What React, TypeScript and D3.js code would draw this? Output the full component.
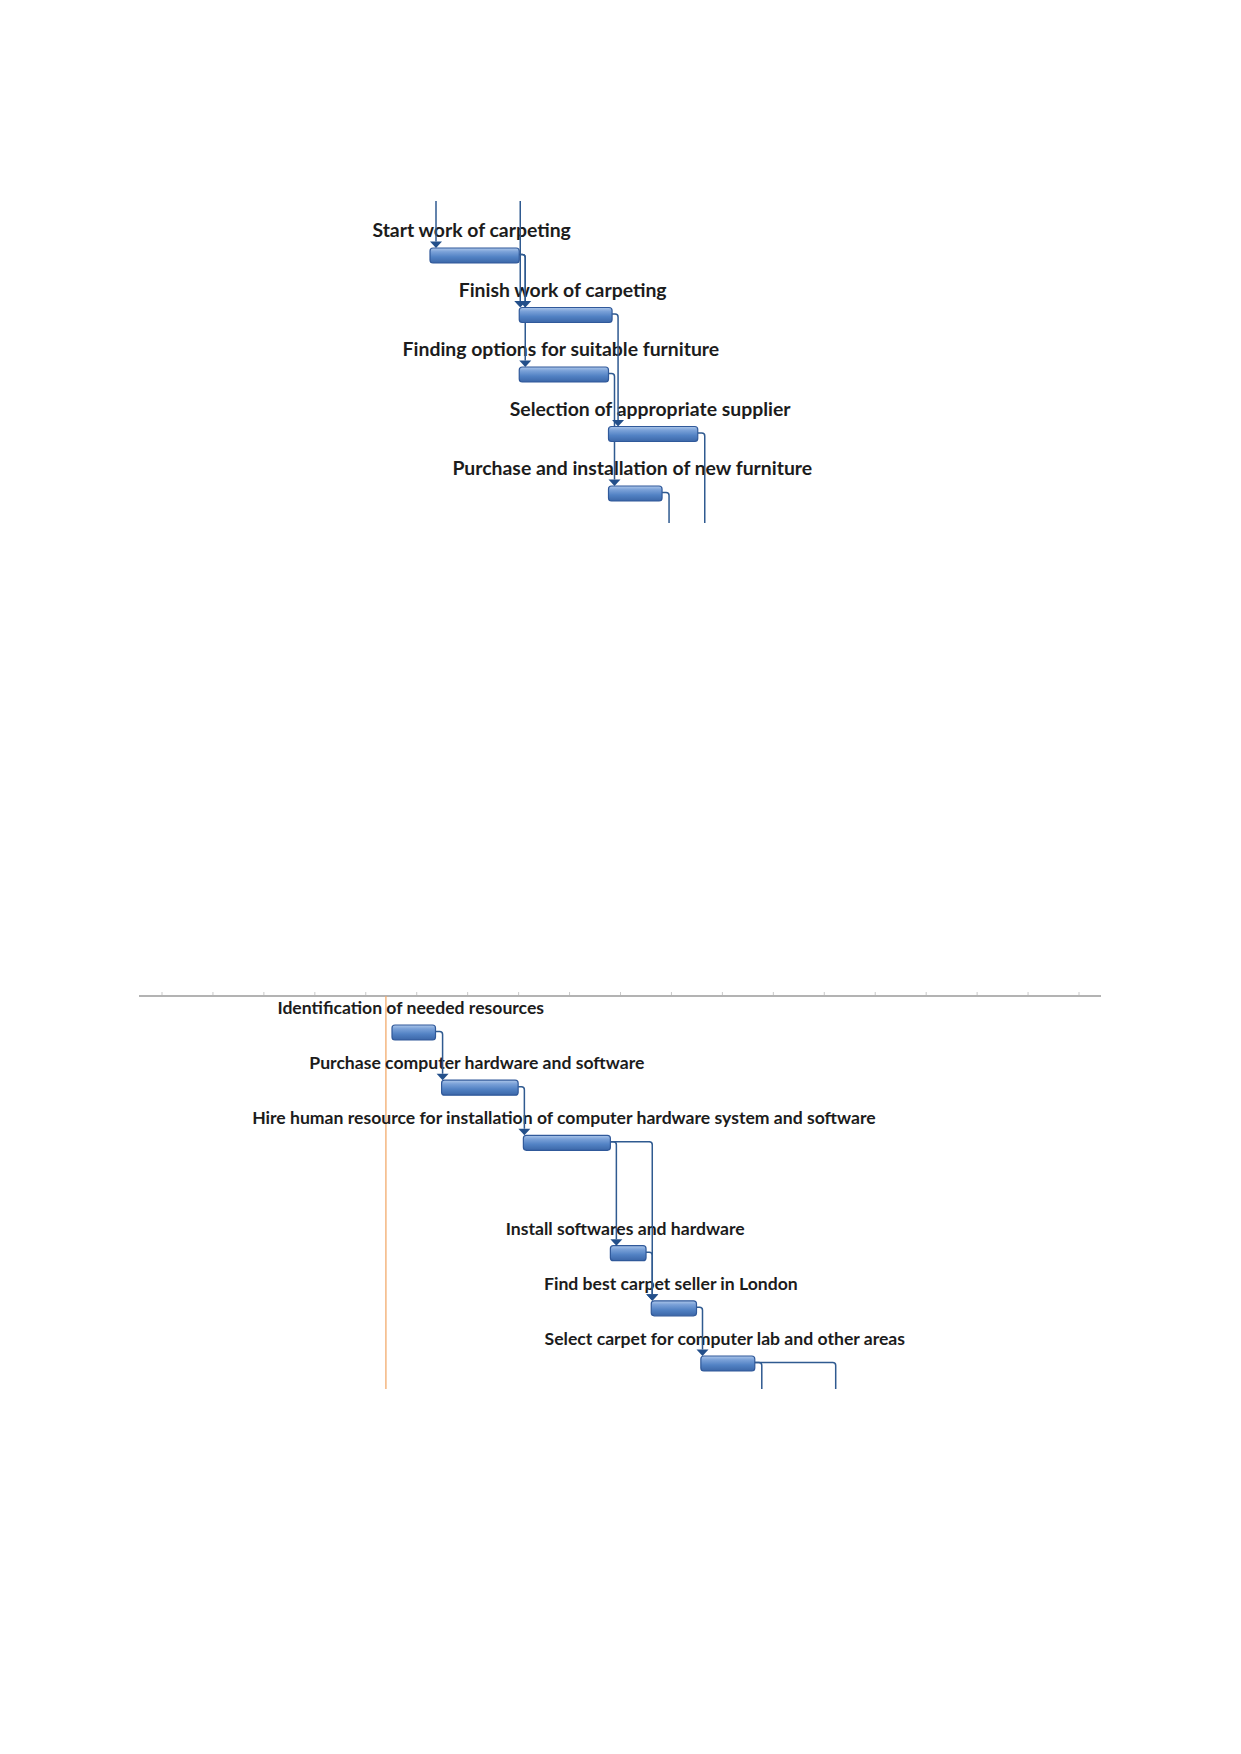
import React from 'react'
import * as d3 from 'd3'

const PAGE_W = 1241
const PAGE_H = 1754

// upper gantt fragment (carpeting / furniture)
const topTasks = [
  'Start work of carpeting',
  'Finish work of carpeting',
  'Finding options for suitable furniture',
  'Selection of appropriate supplier',
  'Purchase and installation of new furniture'
]
const topStart = [0, 5, 5, 10, 10]
const topFinish = [5, 10.2, 10, 15, 13]
const topRows = [0, 1, 2, 3, 4]
const topLinks = [[0, 1], [0, 2], [1, 3], [2, 4]]
// predecessors above the visible area / successors below it
const topIncoming = [{ to: 0, day: 0 }, { to: 1, day: 4.66 }]
const topOutgoing = [{ from: 3, day: 15 }, { from: 4, day: 13 }]

// lower gantt fragment (computer lab)
const bottomTasks = [
  'Identification of needed resources',
  'Purchase computer hardware and software',
  'Hire human resource for installation of computer hardware system and software',
  'Install softwares and hardware',
  'Find best carpet seller in London',
  'Select carpet for computer lab and other areas'
]
const bottomStart = [0, 5.7, 15.1, 25.1, 29.8, 35.5]
const bottomFinish = [5, 14.5, 25.1, 29.2, 35, 41.7]
const bottomRows = [0, 1, 2, 4, 5, 6]
const bottomLinks = [[0, 1], [1, 2], [2, 3], [2, 4], [3, 4], [4, 5]]
const bottomOutgoing = [{ from: 5, day: 41.7 }, { from: 5, day: 51 }]
const bottomToday = -0.7
const headerTicks = d3.range(19)

const BAR_H = 15
const ARROW_H = 6.5
const ARROW_W = 6
const LINK_COLOR = '#2f5a90'
const ARROW_COLOR = '#234f8a'

type GanttProps = {
  id: string
  tasks: string[]
  start: number[]
  finish: number[]
  rows: number[]
  links: number[][]
  incoming?: { to: number; day: number }[]
  outgoing?: { from: number; day: number }[]
  x: d3.ScaleLinear<number, number>
  y: d3.ScaleLinear<number, number>
  clipTop: number
  clipBottom: number
  fontSize: number
}

const Gantt = ({ id, tasks, start, finish, rows, links, incoming = [], outgoing = [], x, y, clipTop, clipBottom, fontSize }: GanttProps) => {
  const top = (i: number) => y(rows[i])
  const mid = (i: number) => y(rows[i]) + BAR_H / 2
  const arrowX = (predEnd: number, i: number) => Math.max(x(predEnd) + 6, x(start[i]) + 1)
  const r = 3

  const elbow = (x1: number, y1: number, ax: number, y2: number) =>
    `M${x1},${y1} H${ax - r} Q${ax},${y1} ${ax},${y1 + r} V${y2}`

  const arrow = (ax: number, yTip: number) =>
    `M${ax - ARROW_W},${yTip - ARROW_H} L${ax + ARROW_W},${yTip - ARROW_H} L${ax},${yTip} Z`

  return (
    <g>
      <defs>
        <linearGradient id={`${id}-bar`} x1="0" y1="0" x2="0" y2="1">
          <stop offset="0%" stopColor="#adc7ea" />
          <stop offset="25%" stopColor="#7aa1d8" />
          <stop offset="60%" stopColor="#5282c4" />
          <stop offset="100%" stopColor="#3c67a8" />
        </linearGradient>
      </defs>

      {tasks.map((t, i) => (
        <text
          key={t}
          x={(x(start[i]) + x(finish[i])) / 2 - 3}
          y={top(i) - 11}
          textAnchor="middle"
          fontFamily="Lato, 'Open Sans', sans-serif"
          fontWeight={700}
          fontSize={fontSize}
          fill="#1c1c1c"
        >
          {t}
        </text>
      ))}

      {incoming.map((d, k) => {
        const ax = arrowX(d.day, d.to)
        return (
          <path key={`in${k}`} d={`M${ax},${clipTop} V${top(d.to) - ARROW_H}`} stroke={LINK_COLOR} strokeWidth={1.5} fill="none" />
        )
      })}

      {links.map(([a, b], k) => {
        const ax = arrowX(finish[a], b)
        return (
          <path key={`l${k}`} d={elbow(x(finish[a]), mid(a) - 1, ax, top(b) - ARROW_H)} stroke={LINK_COLOR} strokeWidth={1.5} fill="none" />
        )
      })}

      {outgoing.map((d, k) => {
        const ax = Math.max(x(finish[d.from]) + 7, x(d.day))
        return (
          <path key={`o${k}`} d={elbow(x(finish[d.from]), mid(d.from) - 1, ax, clipBottom)} stroke={LINK_COLOR} strokeWidth={1.5} fill="none" />
        )
      })}

      {tasks.map((t, i) => (
        <rect
          key={`b${i}`}
          x={x(start[i])}
          y={top(i)}
          width={x(finish[i]) - x(start[i])}
          height={BAR_H}
          rx={3}
          fill={`url(#${id}-bar)`}
          stroke="#30599a"
          strokeWidth={1.2}
        />
      ))}

      {incoming.map((d, k) => (
        <path key={`ia${k}`} d={arrow(arrowX(d.day, d.to), top(d.to))} fill={ARROW_COLOR} />
      ))}
      {links.map(([a, b], k) => (
        <path key={`la${k}`} d={arrow(arrowX(finish[a], b), top(b))} fill={ARROW_COLOR} />
      ))}
    </g>
  )
}

const App = () => {
  const xTop = d3.scaleLinear().domain([0, 15]).range([430, 430 + 15 * 17.85])
  const yTop = d3.scaleLinear().domain([0, 4]).range([248, 486])

  const xBottom = d3.scaleLinear().domain([0, 40]).range([392, 392 + 40 * 8.7])
  const yBottom = d3.scaleLinear().domain([0, 6]).range([1025, 1356])
  const tickX = d3.scaleLinear().domain([0, 18]).range([162, 1079])
  const headerY = 996

  return (
    <div style={{ position: 'absolute', left: 0, top: 0 }}>
      <svg width={PAGE_W} height={PAGE_H} style={{ display: 'block', background: '#fff' }}>
        <Gantt
          id="top"
          tasks={topTasks}
          start={topStart}
          finish={topFinish}
          rows={topRows}
          links={topLinks}
          incoming={topIncoming}
          outgoing={topOutgoing}
          x={xTop}
          y={yTop}
          clipTop={201}
          clipBottom={523}
          fontSize={19.4}
        />

        {/* timescale header rule of the lower fragment */}
        <line x1={139} x2={1101} y1={headerY} y2={headerY} stroke="#9a9a9a" strokeWidth={1.5} />
        {headerTicks.map(t => (
          <line key={t} x1={tickX(t)} x2={tickX(t)} y1={headerY - 4} y2={headerY - 1} stroke="#c9c9c9" strokeWidth={1} />
        ))}
        <line
          x1={xBottom(bottomToday)}
          x2={xBottom(bottomToday)}
          y1={headerY}
          y2={1389}
          stroke="#f2ab6d"
          strokeWidth={1.3}
        />

        <Gantt
          id="bottom"
          tasks={bottomTasks}
          start={bottomStart}
          finish={bottomFinish}
          rows={bottomRows}
          links={bottomLinks}
          outgoing={bottomOutgoing}
          x={xBottom}
          y={yBottom}
          clipTop={headerY}
          clipBottom={1389}
          fontSize={17.6}
        />
      </svg>
    </div>
  )
}

export default App
